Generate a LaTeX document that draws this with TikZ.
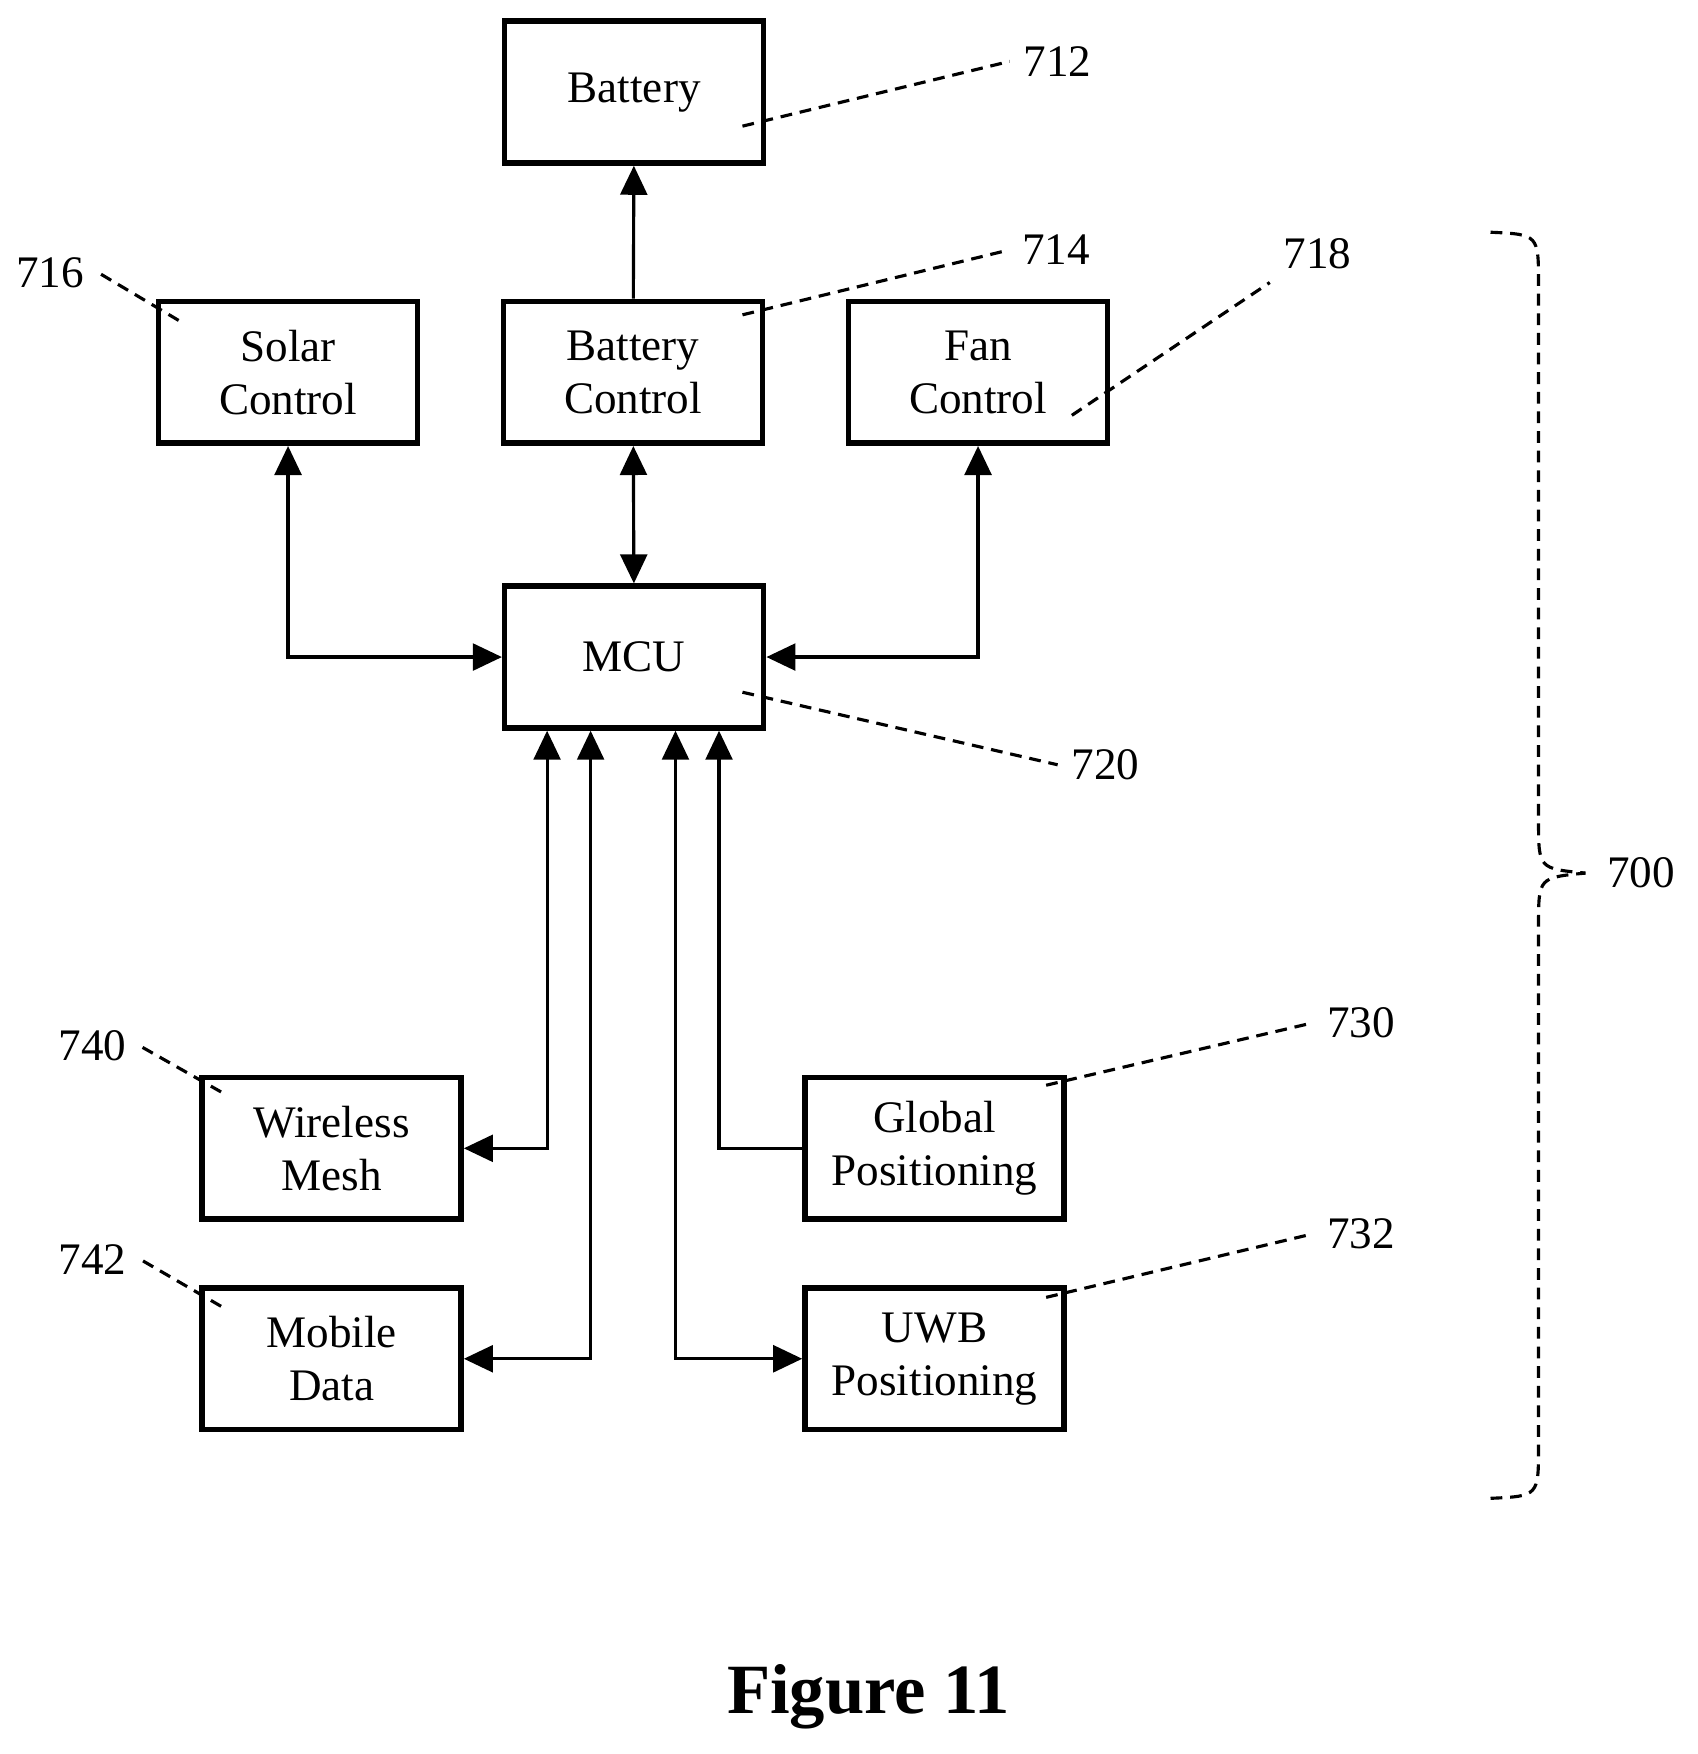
\documentclass[tikz,border=0pt]{standalone}
\usepackage{fontspec}
\setmainfont{Liberation Serif}
\usetikzlibrary{arrows.meta}
\tikzset{
	block/.style={draw, line width=1.4pt, minimum width=2.32cm, minimum height=1.27cm, align=center, font=\fontsize{11.5}{13.5}\selectfont},
	link/.style={line width=0.8pt},
	tip/.style={-{Triangle[length=2.6mm,width=2.4mm]}},
	tips/.style={{Triangle[length=2.6mm,width=2.4mm]}-{Triangle[length=2.6mm,width=2.4mm]}},
	lead/.style={dashed, line width=0.8pt, dash pattern=on 3pt off 2pt},
	num/.style={font=\fontsize{11.5}{13.5}\selectfont}
}
\begin{document}
\begin{tikzpicture}
	\useasboundingbox (0,0) rectangle (15.2,-15.71);
	% the blocks
	\node[block] (bat) at (5.68,-0.825) {Battery};
	\node[block] (solar) at (2.58,-3.335) {Solar\\Control};
	\node[block] (batctl) at (5.67,-3.335) {Battery\\Control};
	\node[block] (fan) at (8.76,-3.335) {Fan\\Control};
	\node[block] (mcu) at (5.68,-5.885) {MCU};
	\node[block] (mesh) at (2.97,-10.285) {Wireless\\Mesh};
	\node[block] (mobile) at (2.97,-12.17) {Mobile\\Data};
	\node[block] (gps) at (8.37,-10.285) {Global\\Positioning};
	\node[block] (uwb) at (8.37,-12.17) {UWB\\Positioning};

	% the connectors
	\draw[link, tip] (batctl) -- (bat);
	\draw[link, tips] (batctl) -- (mcu);
	\draw[link, tips] (solar.south) |- (mcu.west);
	\draw[link, tips] (fan.south) |- (mcu.east);
	\draw[link, tips] (mcu.south -| 4.90,0) |- (mesh.east);
	\draw[link, tips] (mcu.south -| 5.29,0) |- (mobile.east);
	\draw[link, tips] (mcu.south -| 6.05,0) |- (uwb.west);
	\draw[link, tip] (gps.west) -| (mcu.south -| 6.44,0);

	% reference numbers
	\node[num] (n712) at (9.47,-0.55) {712};
	\node[num] (n714) at (9.46,-2.24) {714};
	\node[num] (n718) at (11.80,-2.27) {718};
	\node[num] (n716) at (0.45,-2.44) {716};
	\node[num] (n720) at (9.90,-6.85) {720};
	\node[num] (n740) at (0.83,-9.37) {740};
	\node[num] (n742) at (0.83,-11.28) {742};
	\node[num] (n730) at (12.19,-9.16) {730};
	\node[num] (n732) at (12.19,-11.05) {732};
	\node[num] (n700) at (14.70,-7.82) {700};
	\coordinate (e712) at (6.65,-1.13);
	\coordinate (e714) at (6.65,-2.82);
	\coordinate (e718) at (9.60,-3.72);
	\coordinate (e716) at (1.60,-2.87);
	\coordinate (e720) at (6.65,-6.20);
	\coordinate (e740) at (1.98,-9.78);
	\coordinate (e742) at (1.98,-11.70);
	\coordinate (e730) at (9.37,-9.72);
	\coordinate (e732) at (9.37,-11.62);
	\draw[lead] (e712) -- (n712.west);
	\draw[lead] (e714) -- (n714.west);
	\draw[lead] (e718) -- (n718.south west);
	\draw[lead] (e716) -- (n716.east);
	\draw[lead] (e720) -- (n720.west);
	\draw[lead] (e740) -- (n740.east);
	\draw[lead] (e742) -- (n742.east);
	\draw[lead] (e730) -- (n730.west);
	\draw[lead] (e732) -- (n732.west);

	% brace
	\draw[lead] (13.35,-2.08) .. controls (13.78,-2.10) .. (13.78,-2.55) -- (13.78,-7.35)
		.. controls (13.78,-7.78) .. (14.20,-7.82);
	\draw[lead] (13.35,-13.42) .. controls (13.78,-13.40) .. (13.78,-12.95) -- (13.78,-8.29)
		.. controls (13.78,-7.86) .. (14.20,-7.82);

	\node[font=\fontsize{18}{20}\selectfont\bfseries] (fig) at (7.78,-15.20) {Figure 11};
\end{tikzpicture}
\end{document}
